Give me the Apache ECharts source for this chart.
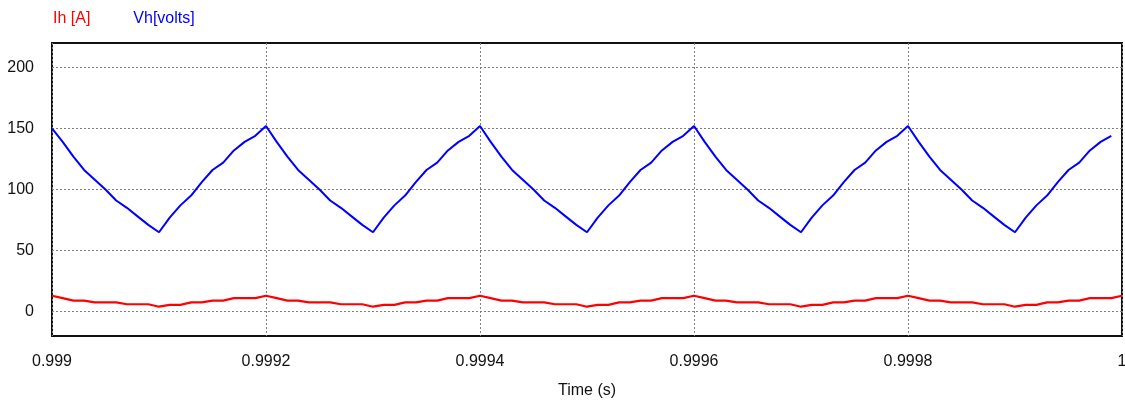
<!DOCTYPE html>
<html><head><meta charset="utf-8">
<script src="https://cdn.jsdelivr.net/npm/echarts@6/dist/echarts.min.js"></script>
<style>html,body{margin:0;padding:0;background:#fff}#c{width:1125px;height:406px}</style>
</head><body><div id="c"></div>
<script>
// time in microseconds after 0.999 s
const timeUs = [0,10,20,30,40,50,60,70,80,90,100,110,120,130,140,150,160,170,180,190,
  200,210,220,230,240,250,260,270,280,290,300,310,320,330,340,350,360,370,380,390,
  400,410,420,430,440,450,460,470,480,490,500,510,520,530,540,550,560,570,580,590,
  600,610,620,630,640,650,660,670,680,690,700,710,720,730,740,750,760,770,780,790,
  800,810,820,830,840,850,860,870,880,890,900,910,920,930,940,950,960,970,980,990,1000];
const ih = [13,11,9,9,7.5,7.5,7.5,6,6,6,4,5.5,5.5,7.5,7.5,9,9,11,11,11,
  13,11,9,9,7.5,7.5,7.5,6,6,6,4,5.5,5.5,7.5,7.5,9,9,11,11,11,
  13,11,9,9,7.5,7.5,7.5,6,6,6,4,5.5,5.5,7.5,7.5,9,9,11,11,11,
  13,11,9,9,7.5,7.5,7.5,6,6,6,4,5.5,5.5,7.5,7.5,9,9,11,11,11,
  13,11,9,9,7.5,7.5,7.5,6,6,6,4,5.5,5.5,7.5,7.5,9,9,11,11,11,13];
const vh = [150,139,127,116,108,100,91,85,78,71,65,77,87,95,106,116,122,132,139,144,
  152,139,127,116,108,100,91,85,78,71,65,77,87,95,106,116,122,132,139,144,
  152,139,127,116,108,100,91,85,78,71,65,77,87,95,106,116,122,132,139,144,
  152,139,127,116,108,100,91,85,78,71,65,77,87,95,106,116,122,132,139,144,
  152,139,127,116,108,100,91,85,78,71,65,77,87,95,106,116,122,132,139,144];
const yTicks = [0,50,100,150,200];
const seriesNames = ['Ih [A]', 'Vh[volts]'];
const xName = 'Time (s)';

const FONT = "'Liberation Sans',Arial,sans-serif";
const chart = echarts.init(document.getElementById('c'), null, {renderer:'canvas'});
const grid = {left:52, right:3, top:43, bottom:70, show:true, borderColor:'#111', borderWidth:2, outerBoundsMode:'none'};
const dotted = {show:true, lineStyle:{color:'#808080', width:1, type:[2,2]}};
chart.setOption({
  animation:false,
  backgroundColor:'#fff',
  grid: grid,
  legend: {
    top:6, left:43, icon:'none', itemWidth:0, itemGap:38,
    textStyle:{fontSize:16, fontFamily:FONT},
    data:[{name:seriesNames[0], textStyle:{color:'#ff0000'}},{name:seriesNames[1], textStyle:{color:'#0000ff'}}]
  },
  xAxis: {
    type:'value', min:0, max:1000, interval:200,
    name:xName, nameLocation:'middle', nameGap:47,
    nameTextStyle:{fontSize:16, color:'#111', fontFamily:FONT},
    axisLine:{show:false}, axisTick:{show:false},
    axisLabel:{margin:18, fontSize:16, color:'#111', fontFamily:FONT,
      formatter: v => String(Number((0.999 + v*1e-6).toFixed(4)))},
    splitLine: dotted
  },
  yAxis: {
    type:'value', min:-20, max:220,
    axisLine:{show:false},
    axisTick:{show:false, customValues:yTicks},
    axisLabel:{margin:18, fontSize:16, color:'#111', fontFamily:FONT, customValues:yTicks},
    splitLine: dotted
  },
  series: [
    {name:seriesNames[0], type:'line', showSymbol:false, symbol:'none',
     data: timeUs.map((t,i)=>[t, ih[i]]), lineStyle:{color:'#ff0000', width:2.2}, itemStyle:{color:'#ff0000'}},
    {name:seriesNames[1], type:'line', showSymbol:false, symbol:'none',
     data: vh.map((v,i)=>[timeUs[i], v]), lineStyle:{color:'#0000ff', width:2}, itemStyle:{color:'#0000ff'}}
  ]
});
</script></body></html>
